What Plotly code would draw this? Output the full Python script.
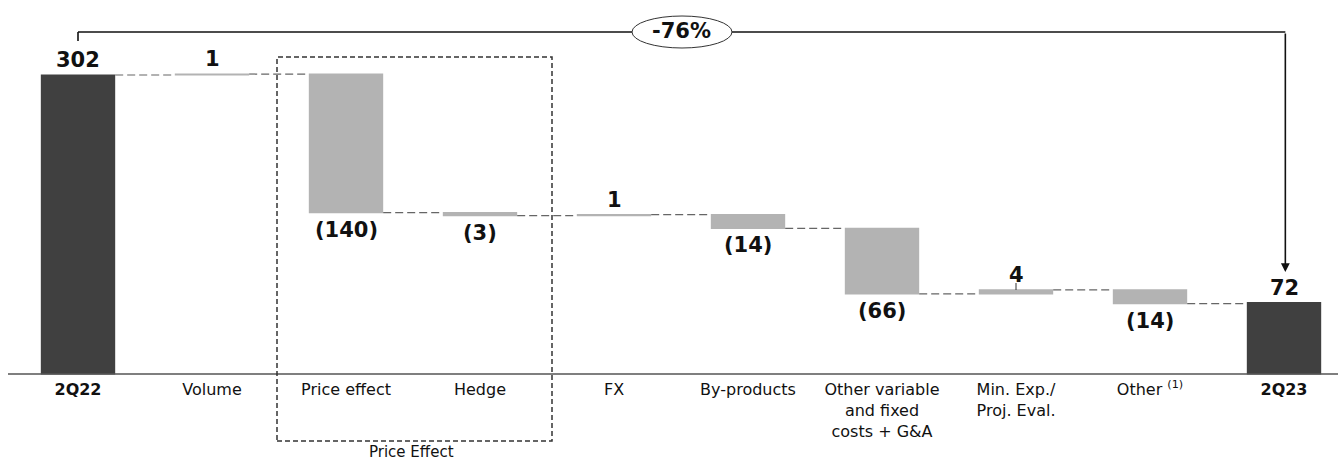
import plotly.graph_objects as go

# ---- data ----
categories = ["<b>2Q22</b>", "Volume", "Price effect", "Hedge", "FX", "By-products",
              "Other variable<br>and fixed<br>costs + G&A", "Min. Exp./<br>Proj. Eval.",
              "Other <sup>(1)</sup>", "<b>2Q23</b>"]
values = [302, 1, -140, -3, 1, -14, -66, 4, -14, 72]
measures = ["absolute", "relative", "relative", "relative", "relative", "relative",
            "relative", "relative", "relative", "absolute"]
labels = ["302", "1", "(140)", "(3)", "1", "(14)", "(66)", "4", "(14)", "72"]
change_label = "-76%"
group_label = "Price Effect"

FONT = "DejaVu Sans"
DARK = "#404040"
GREY = "#b3b3b3"

xs = list(range(len(categories)))

fig = go.Figure()
fig.add_trace(go.Waterfall(
    x=xs, y=values, measure=measures,
    width=[0.555] * len(xs),
    increasing=dict(marker=dict(color=GREY)),
    decreasing=dict(marker=dict(color=GREY)),
    totals=dict(marker=dict(color=DARK)),
    connector=dict(mode="between", line=dict(color="#666666", width=1.2, dash="8px,4px")),
    textinfo="none", hoverinfo="skip",
))

# value labels
cum = 0
ann = []
for i, (v, m, t) in enumerate(zip(values, measures, labels)):
    if m == "absolute":
        start, end = 0, v
        cum = v
    else:
        start, end = cum, cum + v
        cum = end
    if v >= 0:
        ann.append(dict(x=i, y=max(start, end), text=f"<b>{t}</b>", yanchor="bottom",
                        yshift=1, showarrow=False, font=dict(family=FONT, size=21, color="#111")))
    else:
        ann.append(dict(x=i, y=min(start, end), text=f"<b>{t}</b>", yanchor="top",
                        yshift=-3, showarrow=False, font=dict(family=FONT, size=21, color="#111")))

k = 0.99  # px per unit
ymax = 374 / k
ymin = -(463 - 374) / k
xmin = -78 / 134
xmax = (1338 - 78) / 134
px2y = lambda p: (374 - p) / k
px2x = lambda p: (p - 78) / 134

shapes = []
# baseline
shapes.append(dict(type="line", x0=px2x(8), x1=xmax, y0=0, y1=0, line=dict(color="#555", width=1.5)))
# leader tick for "4"
shapes.append(dict(type="line", x0=7, x1=7, y0=px2y(283), y1=px2y(290), line=dict(color="#333", width=1)))
# top bracket
ytop = px2y(32)
shapes.append(dict(type="line", x0=0, x1=0, y0=px2y(41), y1=ytop, line=dict(color="#111", width=1.6)))
shapes.append(dict(type="line", x0=0, x1=9.01, y0=ytop, y1=ytop, line=dict(color="#111", width=1.6)))
# ellipse
shapes.append(dict(type="circle", x0=px2x(632), x1=px2x(732), y0=px2y(48), y1=px2y(16),
                   fillcolor="white", line=dict(color="#333", width=1)))
# Price effect dashed box
shapes.append(dict(type="rect", x0=px2x(277), x1=px2x(552), y0=px2y(441), y1=px2y(57),
                   line=dict(color="#333", width=1.5, dash="5px,3px")))

ann.append(dict(x=px2x(681), y=ytop, yshift=1, text=f"<b>{change_label}</b>", showarrow=False,
                font=dict(family=FONT, size=21, color="#111")))
ann.append(dict(x=9.01, y=px2y(272), ax=9.01, ay=ytop, axref="x", ayref="y",
                showarrow=True, arrowhead=2, arrowsize=1.1, arrowwidth=1.6, arrowcolor="#111", text=""))
ann.append(dict(x=px2x(411), y=px2y(452), text=group_label, showarrow=False,
                font=dict(family=FONT, size=15, color="#111")))

fig.update_layout(
    width=1338, height=463, margin=dict(l=0, r=0, t=0, b=0),
    paper_bgcolor="white", plot_bgcolor="white", showlegend=False,
    shapes=shapes, annotations=ann,
    xaxis=dict(range=[xmin, xmax], tickvals=xs, ticktext=categories, showgrid=False,
               zeroline=False, showline=False, ticks="", anchor="free", ticklabelstandoff=4,
               position=(0 - ymin) / (ymax - ymin), tickfont=dict(family=FONT, size=16, color="#111")),
    yaxis=dict(range=[ymin, ymax], visible=False, showgrid=False, zeroline=False),
)

fig.write_html("out.html")
